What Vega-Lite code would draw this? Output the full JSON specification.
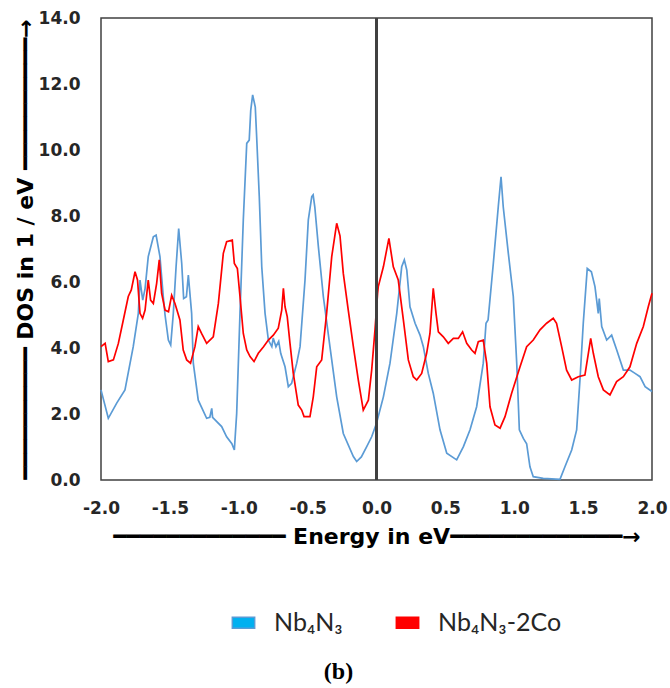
{
  "$schema": "https://vega.github.io/schema/vega-lite/v6.json",
  "autosize": {"type": "none"},
  "width": 551,
  "height": 462,
  "padding": {"left": 101, "top": 18, "right": 18, "bottom": 208},
  "background": "white",
  "config": {
    "view": {"stroke": "#404040", "strokeWidth": 1.5},
    "font": "DejaVu Sans"
  },
  "title": {"text": "(b)", "orient": "bottom", "font": "Liberation Serif", "fontSize": 24, "fontWeight": "bold", "color": "#000000", "offset": 24, "dx": -38},
  "data": {"values": [
    {"e":-2.0,"d":2.73,"s":"Nb₄N₃"},{"e":-1.947,"d":1.87,"s":"Nb₄N₃"},{"e":-1.886,"d":2.33,"s":"Nb₄N₃"},{"e":-1.826,"d":2.73,"s":"Nb₄N₃"},{"e":-1.766,"d":4.04,"s":"Nb₄N₃"},{"e":-1.729,"d":5.05,"s":"Nb₄N₃"},{"e":-1.717,"d":6.06,"s":"Nb₄N₃"},{"e":-1.697,"d":5.45,"s":"Nb₄N₃"},{"e":-1.68,"d":5.8,"s":"Nb₄N₃"},{"e":-1.657,"d":6.77,"s":"Nb₄N₃"},{"e":-1.62,"d":7.37,"s":"Nb₄N₃"},{"e":-1.6,"d":7.42,"s":"Nb₄N₃"},{"e":-1.572,"d":6.77,"s":"Nb₄N₃"},{"e":-1.548,"d":5.56,"s":"Nb₄N₃"},{"e":-1.535,"d":5.0,"s":"Nb₄N₃"},{"e":-1.511,"d":4.24,"s":"Nb₄N₃"},{"e":-1.494,"d":4.09,"s":"Nb₄N₃"},{"e":-1.475,"d":5.05,"s":"Nb₄N₃"},{"e":-1.455,"d":6.46,"s":"Nb₄N₃"},{"e":-1.436,"d":7.62,"s":"Nb₄N₃"},{"e":-1.414,"d":6.56,"s":"Nb₄N₃"},{"e":-1.4,"d":5.5,"s":"Nb₄N₃"},{"e":-1.38,"d":5.55,"s":"Nb₄N₃"},{"e":-1.366,"d":6.21,"s":"Nb₄N₃"},{"e":-1.342,"d":5.05,"s":"Nb₄N₃"},{"e":-1.33,"d":3.54,"s":"Nb₄N₃"},{"e":-1.294,"d":2.42,"s":"Nb₄N₃"},{"e":-1.233,"d":1.87,"s":"Nb₄N₃"},{"e":-1.21,"d":1.9,"s":"Nb₄N₃"},{"e":-1.196,"d":2.17,"s":"Nb₄N₃"},{"e":-1.19,"d":1.9,"s":"Nb₄N₃"},{"e":-1.124,"d":1.62,"s":"Nb₄N₃"},{"e":-1.088,"d":1.31,"s":"Nb₄N₃"},{"e":-1.05,"d":1.1,"s":"Nb₄N₃"},{"e":-1.032,"d":0.91,"s":"Nb₄N₃"},{"e":-1.015,"d":2.02,"s":"Nb₄N₃"},{"e":-0.991,"d":5.05,"s":"Nb₄N₃"},{"e":-0.967,"d":7.88,"s":"Nb₄N₃"},{"e":-0.942,"d":10.2,"s":"Nb₄N₃"},{"e":-0.924,"d":10.3,"s":"Nb₄N₃"},{"e":-0.913,"d":11.2,"s":"Nb₄N₃"},{"e":-0.899,"d":11.67,"s":"Nb₄N₃"},{"e":-0.88,"d":11.3,"s":"Nb₄N₃"},{"e":-0.87,"d":10.4,"s":"Nb₄N₃"},{"e":-0.851,"d":8.59,"s":"Nb₄N₃"},{"e":-0.833,"d":6.46,"s":"Nb₄N₃"},{"e":-0.809,"d":5.05,"s":"Nb₄N₃"},{"e":-0.785,"d":4.24,"s":"Nb₄N₃"},{"e":-0.76,"d":4.04,"s":"Nb₄N₃"},{"e":-0.75,"d":4.3,"s":"Nb₄N₃"},{"e":-0.73,"d":4.04,"s":"Nb₄N₃"},{"e":-0.71,"d":4.2,"s":"Nb₄N₃"},{"e":-0.695,"d":3.83,"s":"Nb₄N₃"},{"e":-0.664,"d":3.43,"s":"Nb₄N₃"},{"e":-0.64,"d":2.83,"s":"Nb₄N₃"},{"e":-0.616,"d":2.93,"s":"Nb₄N₃"},{"e":-0.579,"d":3.54,"s":"Nb₄N₃"},{"e":-0.555,"d":4.04,"s":"Nb₄N₃"},{"e":-0.519,"d":6.06,"s":"Nb₄N₃"},{"e":-0.495,"d":7.88,"s":"Nb₄N₃"},{"e":-0.47,"d":8.59,"s":"Nb₄N₃"},{"e":-0.46,"d":8.64,"s":"Nb₄N₃"},{"e":-0.448,"d":8.28,"s":"Nb₄N₃"},{"e":-0.422,"d":7.07,"s":"Nb₄N₃"},{"e":-0.386,"d":5.56,"s":"Nb₄N₃"},{"e":-0.338,"d":4.04,"s":"Nb₄N₃"},{"e":-0.289,"d":2.52,"s":"Nb₄N₃"},{"e":-0.241,"d":1.41,"s":"Nb₄N₃"},{"e":-0.168,"d":0.71,"s":"Nb₄N₃"},{"e":-0.144,"d":0.56,"s":"Nb₄N₃"},{"e":-0.11,"d":0.7,"s":"Nb₄N₃"},{"e":-0.071,"d":1.01,"s":"Nb₄N₃"},{"e":-0.035,"d":1.31,"s":"Nb₄N₃"},{"e":0.0,"d":1.72,"s":"Nb₄N₃"},{"e":0.05,"d":2.52,"s":"Nb₄N₃"},{"e":0.098,"d":3.54,"s":"Nb₄N₃"},{"e":0.147,"d":5.05,"s":"Nb₄N₃"},{"e":0.183,"d":6.46,"s":"Nb₄N₃"},{"e":0.202,"d":6.67,"s":"Nb₄N₃"},{"e":0.22,"d":6.36,"s":"Nb₄N₃"},{"e":0.243,"d":5.25,"s":"Nb₄N₃"},{"e":0.28,"d":4.75,"s":"Nb₄N₃"},{"e":0.316,"d":4.39,"s":"Nb₄N₃"},{"e":0.34,"d":4.04,"s":"Nb₄N₃"},{"e":0.376,"d":3.23,"s":"Nb₄N₃"},{"e":0.412,"d":2.63,"s":"Nb₄N₃"},{"e":0.461,"d":1.52,"s":"Nb₄N₃"},{"e":0.51,"d":0.81,"s":"Nb₄N₃"},{"e":0.582,"d":0.61,"s":"Nb₄N₃"},{"e":0.631,"d":1.01,"s":"Nb₄N₃"},{"e":0.679,"d":1.52,"s":"Nb₄N₃"},{"e":0.727,"d":2.22,"s":"Nb₄N₃"},{"e":0.775,"d":3.54,"s":"Nb₄N₃"},{"e":0.795,"d":4.75,"s":"Nb₄N₃"},{"e":0.81,"d":4.85,"s":"Nb₄N₃"},{"e":0.848,"d":6.56,"s":"Nb₄N₃"},{"e":0.884,"d":8.28,"s":"Nb₄N₃"},{"e":0.904,"d":9.19,"s":"Nb₄N₃"},{"e":0.92,"d":8.28,"s":"Nb₄N₃"},{"e":0.957,"d":6.87,"s":"Nb₄N₃"},{"e":0.993,"d":5.56,"s":"Nb₄N₃"},{"e":1.018,"d":3.54,"s":"Nb₄N₃"},{"e":1.037,"d":1.52,"s":"Nb₄N₃"},{"e":1.066,"d":1.26,"s":"Nb₄N₃"},{"e":1.09,"d":1.1,"s":"Nb₄N₃"},{"e":1.114,"d":0.4,"s":"Nb₄N₃"},{"e":1.138,"d":0.1,"s":"Nb₄N₃"},{"e":1.21,"d":0.05,"s":"Nb₄N₃"},{"e":1.332,"d":0.02,"s":"Nb₄N₃"},{"e":1.368,"d":0.4,"s":"Nb₄N₃"},{"e":1.417,"d":0.91,"s":"Nb₄N₃"},{"e":1.453,"d":1.52,"s":"Nb₄N₃"},{"e":1.477,"d":3.03,"s":"Nb₄N₃"},{"e":1.501,"d":4.75,"s":"Nb₄N₃"},{"e":1.53,"d":6.41,"s":"Nb₄N₃"},{"e":1.56,"d":6.31,"s":"Nb₄N₃"},{"e":1.586,"d":5.86,"s":"Nb₄N₃"},{"e":1.61,"d":5.05,"s":"Nb₄N₃"},{"e":1.617,"d":5.5,"s":"Nb₄N₃"},{"e":1.635,"d":4.65,"s":"Nb₄N₃"},{"e":1.671,"d":4.24,"s":"Nb₄N₃"},{"e":1.707,"d":4.39,"s":"Nb₄N₃"},{"e":1.744,"d":3.94,"s":"Nb₄N₃"},{"e":1.792,"d":3.33,"s":"Nb₄N₃"},{"e":1.84,"d":3.33,"s":"Nb₄N₃"},{"e":1.877,"d":3.23,"s":"Nb₄N₃"},{"e":1.913,"d":3.13,"s":"Nb₄N₃"},{"e":1.95,"d":2.83,"s":"Nb₄N₃"},{"e":2.0,"d":2.68,"s":"Nb₄N₃"},
    {"e":-2.0,"d":4.04,"s":"Nb₄N₃-2Co"},{"e":-1.97,"d":4.14,"s":"Nb₄N₃-2Co"},{"e":-1.947,"d":3.59,"s":"Nb₄N₃-2Co"},{"e":-1.91,"d":3.64,"s":"Nb₄N₃-2Co"},{"e":-1.874,"d":4.14,"s":"Nb₄N₃-2Co"},{"e":-1.838,"d":4.85,"s":"Nb₄N₃-2Co"},{"e":-1.802,"d":5.56,"s":"Nb₄N₃-2Co"},{"e":-1.78,"d":5.76,"s":"Nb₄N₃-2Co"},{"e":-1.753,"d":6.31,"s":"Nb₄N₃-2Co"},{"e":-1.735,"d":6.06,"s":"Nb₄N₃-2Co"},{"e":-1.717,"d":5.05,"s":"Nb₄N₃-2Co"},{"e":-1.698,"d":4.9,"s":"Nb₄N₃-2Co"},{"e":-1.68,"d":5.15,"s":"Nb₄N₃-2Co"},{"e":-1.657,"d":6.06,"s":"Nb₄N₃-2Co"},{"e":-1.64,"d":5.45,"s":"Nb₄N₃-2Co"},{"e":-1.62,"d":5.35,"s":"Nb₄N₃-2Co"},{"e":-1.596,"d":5.96,"s":"Nb₄N₃-2Co"},{"e":-1.577,"d":6.67,"s":"Nb₄N₃-2Co"},{"e":-1.56,"d":5.66,"s":"Nb₄N₃-2Co"},{"e":-1.535,"d":5.15,"s":"Nb₄N₃-2Co"},{"e":-1.51,"d":5.1,"s":"Nb₄N₃-2Co"},{"e":-1.487,"d":5.6,"s":"Nb₄N₃-2Co"},{"e":-1.463,"d":5.35,"s":"Nb₄N₃-2Co"},{"e":-1.427,"d":4.85,"s":"Nb₄N₃-2Co"},{"e":-1.403,"d":3.94,"s":"Nb₄N₃-2Co"},{"e":-1.378,"d":3.64,"s":"Nb₄N₃-2Co"},{"e":-1.35,"d":3.54,"s":"Nb₄N₃-2Co"},{"e":-1.318,"d":4.04,"s":"Nb₄N₃-2Co"},{"e":-1.294,"d":4.65,"s":"Nb₄N₃-2Co"},{"e":-1.27,"d":4.44,"s":"Nb₄N₃-2Co"},{"e":-1.233,"d":4.14,"s":"Nb₄N₃-2Co"},{"e":-1.185,"d":4.34,"s":"Nb₄N₃-2Co"},{"e":-1.148,"d":5.35,"s":"Nb₄N₃-2Co"},{"e":-1.112,"d":6.87,"s":"Nb₄N₃-2Co"},{"e":-1.088,"d":7.22,"s":"Nb₄N₃-2Co"},{"e":-1.047,"d":7.27,"s":"Nb₄N₃-2Co"},{"e":-1.032,"d":6.56,"s":"Nb₄N₃-2Co"},{"e":-1.01,"d":6.41,"s":"Nb₄N₃-2Co"},{"e":-0.991,"d":5.56,"s":"Nb₄N₃-2Co"},{"e":-0.967,"d":4.44,"s":"Nb₄N₃-2Co"},{"e":-0.942,"d":3.94,"s":"Nb₄N₃-2Co"},{"e":-0.918,"d":3.74,"s":"Nb₄N₃-2Co"},{"e":-0.889,"d":3.59,"s":"Nb₄N₃-2Co"},{"e":-0.858,"d":3.84,"s":"Nb₄N₃-2Co"},{"e":-0.82,"d":4.04,"s":"Nb₄N₃-2Co"},{"e":-0.785,"d":4.24,"s":"Nb₄N₃-2Co"},{"e":-0.749,"d":4.39,"s":"Nb₄N₃-2Co"},{"e":-0.713,"d":4.6,"s":"Nb₄N₃-2Co"},{"e":-0.688,"d":5.15,"s":"Nb₄N₃-2Co"},{"e":-0.676,"d":5.81,"s":"Nb₄N₃-2Co"},{"e":-0.664,"d":5.25,"s":"Nb₄N₃-2Co"},{"e":-0.648,"d":4.95,"s":"Nb₄N₃-2Co"},{"e":-0.628,"d":4.14,"s":"Nb₄N₃-2Co"},{"e":-0.604,"d":3.23,"s":"Nb₄N₃-2Co"},{"e":-0.568,"d":2.27,"s":"Nb₄N₃-2Co"},{"e":-0.543,"d":2.12,"s":"Nb₄N₃-2Co"},{"e":-0.526,"d":1.92,"s":"Nb₄N₃-2Co"},{"e":-0.483,"d":1.92,"s":"Nb₄N₃-2Co"},{"e":-0.459,"d":2.52,"s":"Nb₄N₃-2Co"},{"e":-0.434,"d":3.43,"s":"Nb₄N₃-2Co"},{"e":-0.398,"d":3.64,"s":"Nb₄N₃-2Co"},{"e":-0.362,"d":5.05,"s":"Nb₄N₃-2Co"},{"e":-0.325,"d":6.77,"s":"Nb₄N₃-2Co"},{"e":-0.289,"d":7.78,"s":"Nb₄N₃-2Co"},{"e":-0.265,"d":7.4,"s":"Nb₄N₃-2Co"},{"e":-0.241,"d":6.26,"s":"Nb₄N₃-2Co"},{"e":-0.205,"d":5.15,"s":"Nb₄N₃-2Co"},{"e":-0.168,"d":4.04,"s":"Nb₄N₃-2Co"},{"e":-0.132,"d":3.03,"s":"Nb₄N₃-2Co"},{"e":-0.096,"d":2.12,"s":"Nb₄N₃-2Co"},{"e":-0.059,"d":2.42,"s":"Nb₄N₃-2Co"},{"e":-0.035,"d":3.33,"s":"Nb₄N₃-2Co"},{"e":-0.011,"d":4.55,"s":"Nb₄N₃-2Co"},{"e":0.008,"d":5.66,"s":"Nb₄N₃-2Co"},{"e":0.013,"d":5.86,"s":"Nb₄N₃-2Co"},{"e":0.05,"d":6.46,"s":"Nb₄N₃-2Co"},{"e":0.09,"d":7.32,"s":"Nb₄N₃-2Co"},{"e":0.122,"d":6.46,"s":"Nb₄N₃-2Co"},{"e":0.158,"d":6.06,"s":"Nb₄N₃-2Co"},{"e":0.195,"d":4.85,"s":"Nb₄N₃-2Co"},{"e":0.231,"d":3.64,"s":"Nb₄N₃-2Co"},{"e":0.267,"d":3.13,"s":"Nb₄N₃-2Co"},{"e":0.292,"d":3.03,"s":"Nb₄N₃-2Co"},{"e":0.328,"d":3.23,"s":"Nb₄N₃-2Co"},{"e":0.364,"d":3.84,"s":"Nb₄N₃-2Co"},{"e":0.388,"d":4.44,"s":"Nb₄N₃-2Co"},{"e":0.412,"d":5.81,"s":"Nb₄N₃-2Co"},{"e":0.432,"d":5.05,"s":"Nb₄N₃-2Co"},{"e":0.449,"d":4.49,"s":"Nb₄N₃-2Co"},{"e":0.485,"d":4.34,"s":"Nb₄N₃-2Co"},{"e":0.521,"d":4.14,"s":"Nb₄N₃-2Co"},{"e":0.558,"d":4.29,"s":"Nb₄N₃-2Co"},{"e":0.594,"d":4.29,"s":"Nb₄N₃-2Co"},{"e":0.625,"d":4.49,"s":"Nb₄N₃-2Co"},{"e":0.655,"d":4.14,"s":"Nb₄N₃-2Co"},{"e":0.691,"d":3.94,"s":"Nb₄N₃-2Co"},{"e":0.715,"d":3.84,"s":"Nb₄N₃-2Co"},{"e":0.739,"d":4.19,"s":"Nb₄N₃-2Co"},{"e":0.775,"d":4.24,"s":"Nb₄N₃-2Co"},{"e":0.8,"d":3.54,"s":"Nb₄N₃-2Co"},{"e":0.824,"d":2.22,"s":"Nb₄N₃-2Co"},{"e":0.86,"d":1.67,"s":"Nb₄N₃-2Co"},{"e":0.897,"d":1.57,"s":"Nb₄N₃-2Co"},{"e":0.933,"d":1.92,"s":"Nb₄N₃-2Co"},{"e":0.981,"d":2.63,"s":"Nb₄N₃-2Co"},{"e":1.042,"d":3.43,"s":"Nb₄N₃-2Co"},{"e":1.09,"d":4.04,"s":"Nb₄N₃-2Co"},{"e":1.138,"d":4.24,"s":"Nb₄N₃-2Co"},{"e":1.187,"d":4.55,"s":"Nb₄N₃-2Co"},{"e":1.235,"d":4.75,"s":"Nb₄N₃-2Co"},{"e":1.283,"d":4.9,"s":"Nb₄N₃-2Co"},{"e":1.307,"d":4.75,"s":"Nb₄N₃-2Co"},{"e":1.344,"d":4.04,"s":"Nb₄N₃-2Co"},{"e":1.38,"d":3.33,"s":"Nb₄N₃-2Co"},{"e":1.417,"d":3.03,"s":"Nb₄N₃-2Co"},{"e":1.465,"d":3.13,"s":"Nb₄N₃-2Co"},{"e":1.513,"d":3.18,"s":"Nb₄N₃-2Co"},{"e":1.538,"d":3.84,"s":"Nb₄N₃-2Co"},{"e":1.555,"d":4.29,"s":"Nb₄N₃-2Co"},{"e":1.574,"d":3.84,"s":"Nb₄N₃-2Co"},{"e":1.61,"d":3.13,"s":"Nb₄N₃-2Co"},{"e":1.647,"d":2.73,"s":"Nb₄N₃-2Co"},{"e":1.695,"d":2.58,"s":"Nb₄N₃-2Co"},{"e":1.743,"d":2.98,"s":"Nb₄N₃-2Co"},{"e":1.792,"d":3.13,"s":"Nb₄N₃-2Co"},{"e":1.84,"d":3.43,"s":"Nb₄N₃-2Co"},{"e":1.889,"d":4.14,"s":"Nb₄N₃-2Co"},{"e":1.937,"d":4.65,"s":"Nb₄N₃-2Co"},{"e":1.973,"d":5.25,"s":"Nb₄N₃-2Co"},{"e":2.0,"d":5.66,"s":"Nb₄N₃-2Co"}
  ]},
  "layer": [
    {
      "mark": {"type": "line", "strokeWidth": 1.7, "interpolate": "linear"},
      "encoding": {
        "x": {
          "field": "e", "type": "quantitative",
          "scale": {"domain": [-2, 2], "nice": false, "zero": false},
          "axis": {
            "values": [-2, -1.5, -1, -0.5, 0, 0.5, 1, 1.5, 2],
            "labelExpr": "datum.value < 0 ? '-' + format(-datum.value, '.1f') : format(datum.value, '.1f')",
            "grid": false, "domain": false, "ticks": false,
            "labelFont": "DejaVu Sans", "labelFontSize": 17, "labelFontWeight": "bold", "labelColor": "#262626",
            "labelPadding": 20, "labelFlush": false,
            "title": "━━━━━━━━━━━━━  Energy in eV━━━━━━━━━━━━━→",
            "titleFont": "DejaVu Sans", "titleFontSize": 22, "titleFontWeight": "bold", "titleColor": "#000000",
            "titlePadding": 10
          }
        },
        "y": {
          "field": "d", "type": "quantitative",
          "scale": {"domain": [0, 14], "nice": false},
          "axis": {
            "values": [0, 2, 4, 6, 8, 10, 12, 14],
            "format": ".1f",
            "grid": false, "domain": false, "ticks": false,
            "labelFont": "DejaVu Sans", "labelFontSize": 17, "labelFontWeight": "bold", "labelColor": "#262626",
            "labelPadding": 21,
            "title": "━━━━━━━━━━ DOS in 1 / eV  ━━━━━━━━━━→",
            "titleFont": "DejaVu Sans", "titleFontSize": 22, "titleFontWeight": "bold", "titleColor": "#000000",
            "titlePadding": 1
          }
        },
        "color": {
          "field": "s", "type": "nominal",
          "scale": {"domain": ["Nb₄N₃", "Nb₄N₃-2Co"], "range": ["#5B9BD5", "#FF0000"]},
          "legend": {
            "title": null,
            "orient": "none",
            "legendX": 130,
            "legendY": 592,
            "direction": "horizontal",
            "symbolType": "M-1,-0.5H1V0.5H-1Z",
            "symbolSize": 500,
            "symbolStrokeWidth": 1.5,
            "labelFont": "Lato",
            "labelFontSize": 25,
            "labelColor": "#262626",
            "labelOffset": 18,
            "columnPadding": 50,
            "encode": {
              "symbols": {"update": {
                "fill": {"signal": "datum.value === 'Nb₄N₃' ? '#00B0F0' : '#FF0000'"},
                "stroke": {"value": "#41719C"},
                "fillOpacity": {"value": 1}
              }}
            }
          }
        }
      }
    },
    {
      "mark": {"type": "rule", "color": "#404040", "strokeWidth": 1.5},
      "encoding": {"x": {"datum": 0}}
    }
  ]
}
